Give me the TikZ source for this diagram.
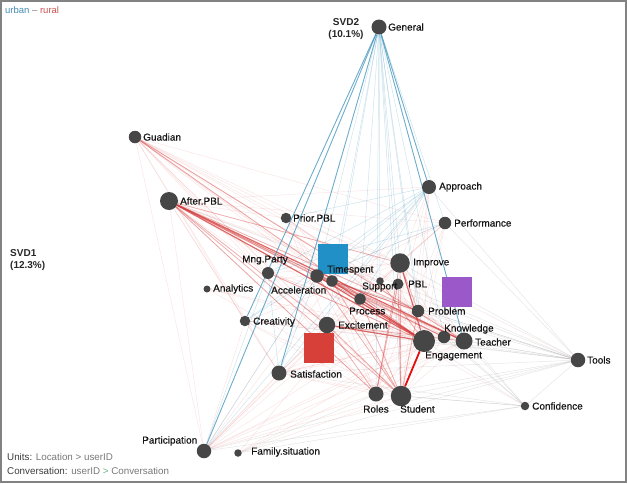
\documentclass[tikz,border=0pt]{standalone}
\usepackage{fontspec}
\setmainfont{Liberation Sans}
\newfontface\labf[FakeBold=0.5]{Liberation Sans}
\usetikzlibrary{backgrounds}
\definecolor{ndfill}{RGB}{70,70,70}
\definecolor{urb}{RGB}{60,145,185}
\definecolor{rur}{RGB}{210,55,55}
\definecolor{sqblue}{RGB}{33,144,199}
\definecolor{sqred}{RGB}{214,64,56}
\definecolor{sqpurp}{RGB}{155,88,200}
\definecolor{framec}{RGB}{130,130,130}
\definecolor{legurb}{RGB}{70,140,180}
\definecolor{legrur}{RGB}{205,80,80}
\definecolor{gtxt}{RGB}{120,120,120}
\definecolor{dtxt}{RGB}{60,60,60}
\definecolor{grn}{RGB}{110,180,130}
\begin{document}
\begin{tikzpicture}[x=1pt,y=-1pt,
  pt/.style={circle,fill=ndfill,inner sep=0,minimum size=#1},
  lab/.style={anchor=west,inner sep=0,font=\labf\fontsize{10}{12}\selectfont,text=black!92},
  svd/.style={inner sep=0,font=\fontsize{10}{12}\selectfont\bfseries,text=black!85},
  sq/.style={rectangle,minimum size=30pt,inner sep=0,fill=#1},
  rf/.style={draw=rur,opacity=0.13,line width=0.5pt},
  rm/.style={draw=rur,opacity=0.4,line width=0.8pt},
  rs/.style={draw=rur,opacity=0.75,line width=1.2pt},
  rx/.style={draw=red!90!black,opacity=0.95,line width=1.8pt},
  bf/.style={draw=urb,opacity=0.25,line width=0.5pt},
  bm/.style={draw=urb,opacity=0.75,line width=0.9pt},
  gf/.style={draw=gray,opacity=0.2,line width=0.5pt},
]
\useasboundingbox (0,0) rectangle (627,483);

% mean squares
\node[sq=sqblue]  (mU) at (333,259) {};
\node[sq=sqred]   (mR) at (319,348) {};
\node[sq=sqpurp]  (mA) at (457,292) {};

% code nodes
\node[pt=15pt] (Gen) at (379,27) {};
\node[pt=12.5pt] (Gua) at (135,137) {};
\node[pt=18pt] (Aft) at (169,201) {};
\node[pt=10.5pt] (Pri) at (286,218) {};
\node[pt=14pt] (App) at (429,187) {};
\node[pt=12.5pt] (Per) at (445,223) {};
\node[pt=12pt] (Mng) at (268,273) {};
\node[pt=13.5pt] (Tim) at (317,276) {};
\node[pt=11.5pt] (Acc) at (332,281) {};
\node[pt=7pt] (Ana) at (207,289) {};
\node[pt=19.5pt] (Imp) at (400,263) {};
\node[pt=7.5pt] (Sup) at (380,281) {};
\node[pt=11pt] (PBL) at (398,284) {};
\node[pt=11.5pt] (Pro) at (360,299) {};
\node[pt=12.5pt] (Prb) at (418,311) {};
\node[pt=10.5pt] (Cre) at (245,321) {};
\node[pt=16.5pt] (Exc) at (327,325) {};
\node[pt=12.5pt] (Kno) at (444,337) {};
\node[pt=17pt] (Tea) at (464,341) {};
\node[pt=22pt] (Eng) at (424,341) {};
\node[pt=14.5pt] (Too) at (578,360) {};
\node[pt=15pt] (Sat) at (279,373) {};
\node[pt=15pt] (Rol) at (376,394) {};
\node[pt=20.5pt] (Stu) at (401,396) {};
\node[pt=8.5pt] (Con) at (525,406) {};
\node[pt=14.5pt] (Par) at (204,451) {};
\node[pt=7.5pt] (Fam) at (238,453) {};

\begin{scope}[on background layer]
% faint red / gray mesh
\foreach \a/\b in {Gua/Eng,Gua/Tea,Gua/Stu,Gua/Exc,Gua/Imp,Gua/Tim,Gua/Acc,Gua/Prb,Gua/Sat,Gua/Pri,Gua/Rol,Gua/Kno,Gua/Pro,Gua/Per,Gua/Mng,Gua/Cre,Gua/Par,Gua/PBL,Gua/Too,
  Aft/Pri,Aft/Per,Aft/App,Aft/Rol,Aft/Sat,Aft/Mng,Aft/Cre,Aft/Sup,Aft/PBL,Aft/Par,Aft/Con,
  Par/Eng,Par/Stu,Par/Rol,Par/Tea,Par/Prb,Par/Exc,Par/Kno,Par/Imp,Par/Sat,Par/Pro,Par/Tim,Par/Acc,Par/PBL,Par/Cre,
  Fam/Eng,Fam/Stu,Fam/Tea,Fam/Imp,
  Cre/Eng,Cre/Stu,Cre/Tea,Cre/Exc,Cre/Imp,Cre/Sat,Cre/Rol,
  Sat/Eng,Sat/Stu,Sat/Tea,Sat/Imp,Sat/Prb,Sat/Rol,Sat/Exc,Sat/Kno,
  Pri/Eng,Pri/Tea,Pri/Imp,Pri/Prb,Pri/Stu,Pri/Kno,Pri/Exc,Pri/Tim,
  Per/Eng,Per/Stu,Per/Rol,Per/Exc,Per/Tim,Per/Acc,Per/Imp,Per/Pro,
  App/Eng,App/Stu,App/Imp,App/Rol,App/Exc,App/Prb,
  Mng/Eng,Mng/Tea,Mng/Stu,Mng/Imp,Mng/Prb,Mng/Kno,
  Ana/Eng,Ana/Stu,Ana/Imp,Ana/Tea,
  Imp/Tea,Imp/Kno,PBL/Eng,PBL/Tea,Pro/Tea,Pro/Kno,Sup/Tea,Tim/Rol,Acc/Rol,Exc/Kno,Rol/Eng,Rol/Tea,Stu/Tea,Stu/Kno,Prb/Tea}
  \draw[rf] (\a) -- (\b);
\foreach \a/\b in {Too/Eng,Too/Tea,Too/Kno,Too/Imp,Too/Prb,Too/Stu,Too/Rol,Too/Sat,Too/Exc,Too/Tim,Too/Acc,Too/Per,Too/App,Too/Pro,Too/Con,Too/Aft,Too/Par,Too/Cre,Too/PBL,
  Con/Eng,Con/Stu,Con/Tea,Con/Imp,Con/Prb,Con/Rol,Con/Par,Con/Sat,Con/Kno,Fam/Too,Fam/Rol,Fam/Con}
  \draw[gf] (\a) -- (\b);
% medium red
\foreach \a/\b in {Aft/Imp,Aft/Tim,Aft/Acc,Aft/Exc,Aft/Pro,Aft/Stu,Aft/Kno,Aft/Prb,Aft/Rol,
  Exc/Rol,Exc/Stu,Exc/Tea,Tim/Tea,Tim/Prb,Tim/Kno,Tim/Stu,Acc/Tea,Acc/Prb,Acc/Stu,
  Imp/Rol,Imp/Prb,Imp/Stu,PBL/Stu,PBL/Rol,Mng/Eng,Pro/Eng,Pro/Stu,Sup/Eng,Prb/Stu,Gua/Eng,Gua/Tea}
  \draw[rm] (\a) -- (\b);
% strong red
\foreach \a/\b in {Aft/Eng,Aft/Tea,Exc/Eng,Imp/Eng,Tim/Eng,Acc/Eng}
  \draw[rs] (\a) -- (\b);
\draw[rx] (Stu) -- (Eng);
% blue
\foreach \a/\b in {Gen/Exc,Gen/Imp,Gen/PBL,Gen/Sup,Gen/Pro,Gen/Rol,Gen/Stu,Gen/Eng,Gen/Prb,Gen/Tim,Gen/Acc,Gen/Kno,Gen/Per,
  App/Tim,App/Mng,App/Pri,App/Cre,App/Par,App/Pro,App/Acc,App/Sat,
  Par/Mng,Par/Tim,Per/Tim,Per/Mng,Cre/Tim,Sat/Tim,Sat/Mng}
  \draw[bf] (\a) -- (\b);
\foreach \a/\b in {Gen/Par,Gen/Cre,Gen/App,Gen/Tea,Gen/Sat}
  \draw[bm] (\a) -- (\b);
\end{scope}

% labels
\node[lab] (tGen) at (388,27) {General};
\node[svd,align=center] (tSvd2) at (346,29) {SVD2\\(10.1\%)};
\node[svd,align=left,anchor=west] (tSvd1) at (10,260) {SVD1\\(12.3\%)};
\node[lab] (tGua) at (143,137) {Guadian};
\node[lab] (tAft) at (180,201) {After.PBL};
\node[lab] (tPri) at (293,218) {Prior.PBL};
\node[lab] (tApp) at (439,187) {Approach};
\node[lab] (tPer) at (454,223) {Performance};
\node[lab] (tMng) at (242,260) {Mng.Party};
\node[lab] (tTim) at (327,270) {Timespent};
\node[lab] (tAcc) at (271,290) {Acceleration};
\node[lab] (tAna) at (213,289) {Analytics};
\node[lab] (tImp) at (413,263) {Improve};
\node[lab] (tSup) at (362,287) {Support};
\node[lab] (tPBL) at (408,284) {PBL};
\node[lab] (tPro) at (349,311) {Process};
\node[lab] (tPrb) at (428,311) {Problem};
\node[lab] (tCre) at (253,322) {Creativity};
\node[lab] (tExc) at (338,325) {Excitement};
\node[lab] (tKno) at (444,329) {Knowledge};
\node[lab] (tTea) at (475,342) {Teacher};
\node[lab] (tEng) at (425,356) {Engagement};
\node[lab] (tToo) at (587,360) {Tools};
\node[lab] (tSat) at (290,374) {Satisfaction};
\node[lab] (tRol) at (363,409) {Roles};
\node[lab] (tStu) at (400,409) {Student};
\node[lab] (tCon) at (532,406) {Confidence};
\node[lab] (tPar) at (142,441) {Participation};
\node[lab] (tFam) at (251,452) {Family.situation};

\node[anchor=west,inner sep=0,font=\fontsize{9.5}{11}\selectfont] (leg) at (5,10)
  {\textcolor{legurb}{urban} \textcolor{gtxt}{–} \textcolor{legrur}{rural}};
\node[anchor=west,inner sep=0,font=\fontsize{9.8}{11}\selectfont] (units) at (7,457)
  {\textcolor{dtxt}{Units:} \textcolor{gtxt}{Location > userID}};
\node[anchor=west,inner sep=0,font=\fontsize{9.8}{11}\selectfont] (conv) at (7,471)
  {\textcolor{dtxt}{Conversation:} \textcolor{gtxt}{userID} \textcolor{grn}{>} \textcolor{gtxt}{Conversation}};

\draw[framec,line width=2pt] (1,1) rectangle (625.5,481.5);
\end{tikzpicture}
\end{document}
